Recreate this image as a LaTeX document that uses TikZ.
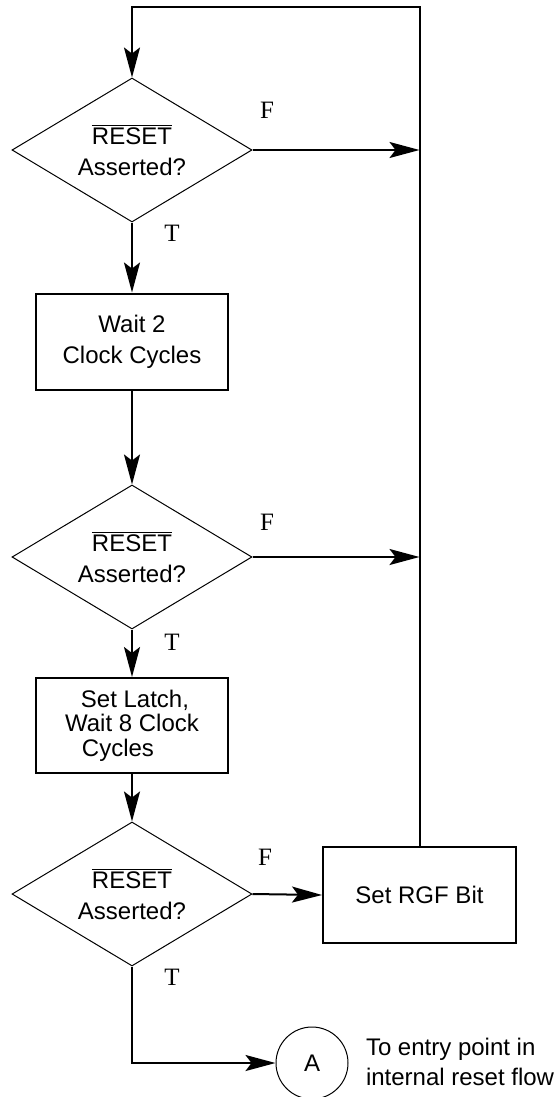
\documentclass[tikz,border=0pt]{standalone}
\usepackage{fontspec}
\setmainfont{Liberation Sans}
\newfontfamily\tffont{Liberation Serif}
\usepackage{tikz}
\usetikzlibrary{arrows.meta,shapes.geometric}
\usetikzlibrary{positioning}
\tikzstyle{box}  =
[
	draw,rectangle,line width=1pt,inner sep=1mm,
	minimum width=96pt, minimum height=48pt, align=center,
	font=\fontsize{12}{15.5}\selectfont
]
\tikzstyle{decision} =
[
	draw,diamond,line width=0.5pt,inner sep=0pt,shape aspect=1.667,
	minimum width=120pt, minimum height=72pt, align=center,
	font=\fontsize{12}{15.5}\selectfont
]
\tikzstyle{jump} =
[
	draw,circle,line width=0.5pt,inner sep=0pt,
	minimum size=36pt, font=\fontsize{12}{14}\selectfont
]
\tikzstyle{flag} = [inner sep=0pt, font=\tffont\fontsize{12.5}{14}\selectfont]
\newcommand{\resetq}{$\overline{\mbox{RESET}}$\\Asserted?}

\begin{document}
\begin{tikzpicture}[->,>={Stealth[length=15pt,width=8pt,inset=3pt]},line width=1pt,x=0.5pt,y=-0.5pt]

\useasboundingbox (0,0) rectangle (555,1097);

\node[decision] (D1) at (132,150) {\resetq};
\node[box] (B1) at (132,341.5) {Wait 2\\Clock Cycles};
\node[decision] (D2) at (132,557) {\resetq};
\node[box, minimum height=47.5pt, font=\fontsize{12}{12.25}\selectfont] (B2) at (132,725.5)
	{\hspace*{3pt}Set Latch,\\Wait 8 Clock\hspace*{5pt}\\Cycles\hspace*{14pt}};
\node[decision] (D3) at (132,894) {\resetq};
\node[box, minimum width=96.5pt] (RGF) at (419.5,895) {Set RGF Bit};
\node[jump] (A) at (312,1063) {A};
\node[anchor=west, align=left, inner sep=0pt, font=\fontsize{12}{15}\selectfont] (note) at (365,1062)
	{To entry point in\\internal reset flow};
\coordinate (top) at (132,7);

\node[flag] (F1) at (267,110) {F};
\node[flag] (T1) at (172,233) {T};
\node[flag] (F2) at (267,522) {F};
\node[flag] (T2) at (172,642) {T};
\node[flag] (F3) at (265,857) {F};
\node[flag] (T3) at (172,977) {T};

\path
	(D1.south) edge (B1.north)
	(B1.south) edge (D2.north)
	(D2.south) edge (B2.north)
	(B2.south) edge (D3.north)
	(D3.east) edge (RGF.west)
	(D1.east) edge (D1.east -| RGF.north)
	(D2.east) edge (D2.east -| RGF.north);

\draw (D3.south) |- (A.west);
\draw (RGF.north) |- (top) -- (D1.north);

\end{tikzpicture}
\end{document}
